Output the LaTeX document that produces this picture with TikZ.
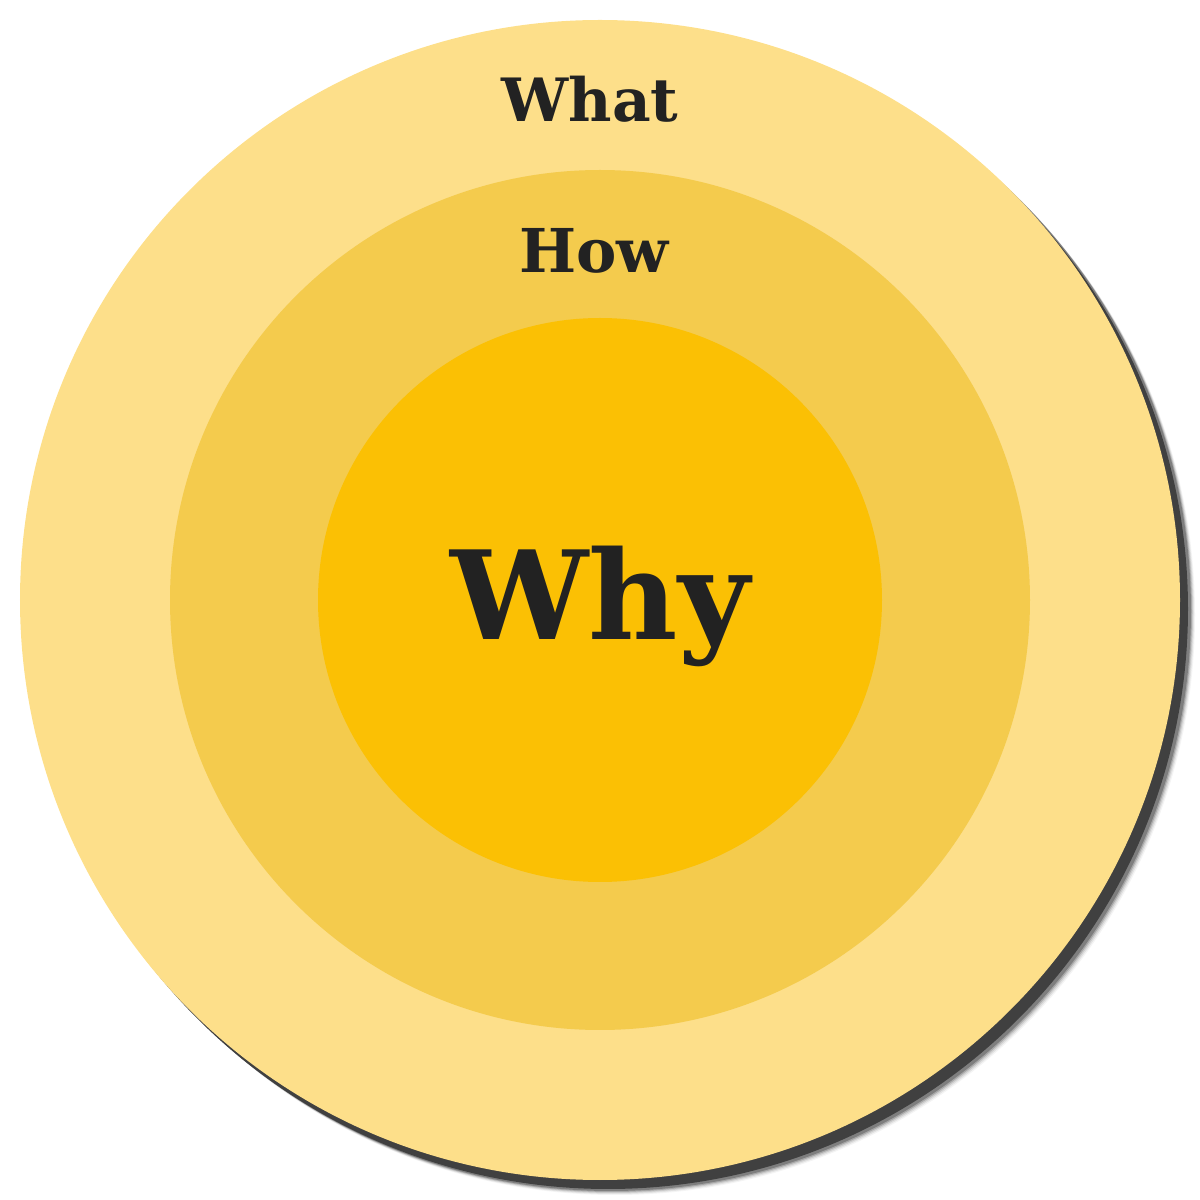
\documentclass[tikz,border=0pt]{standalone}
\usepackage{fontspec}
\setmainfont{DejaVu Serif}
\definecolor{whatcol}{RGB}{253,223,138}
\definecolor{howcol}{RGB}{244,203,77}
\definecolor{whycol}{RGB}{251,192,4}
\definecolor{inkcol}{RGB}{34,34,34}
\definecolor{shadowcol}{RGB}{64,64,64}
\tikzset{ring/.style={circle,inner sep=0pt,draw=none},
  label text/.style={text=inkcol,font=\bfseries,anchor=base,inner sep=0pt}}
\begin{document}
\begin{tikzpicture}
                \useasboundingbox (0,0) rectangle (12,12);
                % shadow
                \foreach \s/\o in {0.15/0.06,0.14/0.1,0.13/0.15,0.12/0.25,0.11/0.4} {\fill[shadowcol,opacity=\o] (6+\s,6-\s) circle (5.8);}
                \fill[shadowcol] (6.08,5.91) circle (5.8);
                % rings
                \node[ring,fill=whatcol,minimum size=11.6cm] (what) at (6,6) {};
                \node[ring,fill=howcol,minimum size=8.6cm] (how) at (6,6) {};
                \node[ring,fill=whycol,minimum size=5.64cm] (why) at (6,6) {};

                \node[label text,font=\bfseries\fontsize{17}{20}\selectfont] (whatlbl) at (5.9,10.78) {What};
                \node[label text,font=\bfseries\fontsize{17.2}{20}\selectfont] (howlbl) at (5.94,9.27) {How};
                \node[label text,font=\bfseries\fontsize{35}{42}\selectfont] (whylbl) at (6,5.6) {Why};
            \end{tikzpicture}
\end{document}
